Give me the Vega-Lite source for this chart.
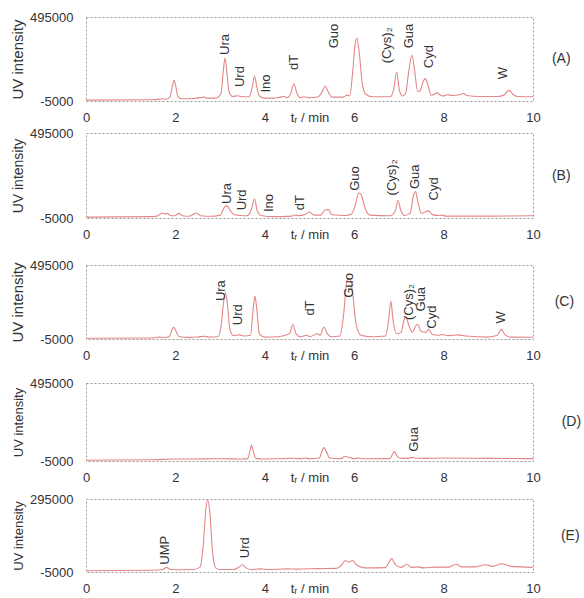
{
  "$schema": "https://vega.github.io/schema/vega-lite/v6.json",
  "background": "white",
  "padding": {"left": 10, "top": 10, "right": 0, "bottom": 5},
  "config": {
    "font": "Liberation Sans",
    "view": {"stroke": "#999", "strokeDash": [2, 2], "strokeWidth": 1},
    "axis": {"labelFontSize": 13, "titleFontSize": 13, "labelColor": "#333", "titleColor": "#333", "titleFontWeight": "normal", "domain": false, "ticks": false, "tickSize": 0, "grid": false, "labelFlush": false, "labelOverlap": false},
    "line": {"color": "#e38686", "strokeWidth": 1.1, "interpolate": "monotone"},
    "text": {"angle": 270, "align": "left", "baseline": "middle", "fontSize": 13, "color": "#333"},
    "title": {"fontSize": 14, "fontWeight": "normal", "color": "#333"}
  },
  "datasets": {
    "a": [
      {"t": 0, "v": 0}, {"t": 1.5, "v": 2000}, {"t": 1.65, "v": 6000}, {"t": 1.72, "v": 8000}, {"t": 1.8, "v": 5000},
      {"t": 1.88, "v": 20000}, {"t": 1.93, "v": 80000}, {"t": 1.97, "v": 118000}, {"t": 2.01, "v": 80000}, {"t": 2.06, "v": 20000},
      {"t": 2.15, "v": 8000}, {"t": 2.4, "v": 10000}, {"t": 2.55, "v": 15000}, {"t": 2.63, "v": 18000}, {"t": 2.72, "v": 12000},
      {"t": 2.9, "v": 12000}, {"t": 3.02, "v": 40000}, {"t": 3.07, "v": 170000}, {"t": 3.11, "v": 251000}, {"t": 3.15, "v": 170000},
      {"t": 3.2, "v": 50000}, {"t": 3.28, "v": 22000}, {"t": 3.39, "v": 26000}, {"t": 3.5, "v": 20000}, {"t": 3.65, "v": 20000},
      {"t": 3.72, "v": 80000}, {"t": 3.77, "v": 142000}, {"t": 3.82, "v": 80000}, {"t": 3.88, "v": 25000}, {"t": 4.0, "v": 12000},
      {"t": 4.2, "v": 12000}, {"t": 4.35, "v": 18000}, {"t": 4.43, "v": 22000}, {"t": 4.5, "v": 15000}, {"t": 4.58, "v": 40000},
      {"t": 4.65, "v": 98000}, {"t": 4.72, "v": 40000}, {"t": 4.8, "v": 15000}, {"t": 4.88, "v": 20000}, {"t": 5.0, "v": 14000},
      {"t": 5.2, "v": 20000}, {"t": 5.3, "v": 60000}, {"t": 5.35, "v": 84000}, {"t": 5.41, "v": 55000}, {"t": 5.5, "v": 18000},
      {"t": 5.75, "v": 18000}, {"t": 5.85, "v": 30000}, {"t": 5.9, "v": 25000}, {"t": 5.96, "v": 150000}, {"t": 6.02, "v": 330000},
      {"t": 6.06, "v": 370000}, {"t": 6.11, "v": 290000}, {"t": 6.18, "v": 100000}, {"t": 6.26, "v": 35000}, {"t": 6.4, "v": 20000},
      {"t": 6.8, "v": 20000}, {"t": 6.88, "v": 60000}, {"t": 6.95, "v": 168000}, {"t": 7.01, "v": 60000}, {"t": 7.08, "v": 25000},
      {"t": 7.15, "v": 40000}, {"t": 7.22, "v": 170000}, {"t": 7.29, "v": 267000}, {"t": 7.35, "v": 180000}, {"t": 7.42, "v": 50000},
      {"t": 7.48, "v": 60000}, {"t": 7.55, "v": 115000}, {"t": 7.59, "v": 128000}, {"t": 7.65, "v": 90000}, {"t": 7.72, "v": 30000},
      {"t": 7.8, "v": 35000}, {"t": 7.85, "v": 45000}, {"t": 7.92, "v": 30000}, {"t": 8.0, "v": 25000}, {"t": 8.09, "v": 32000},
      {"t": 8.2, "v": 28000}, {"t": 8.35, "v": 32000}, {"t": 8.44, "v": 40000}, {"t": 8.52, "v": 28000}, {"t": 8.8, "v": 22000},
      {"t": 9.2, "v": 22000}, {"t": 9.35, "v": 30000}, {"t": 9.42, "v": 50000}, {"t": 9.47, "v": 58000}, {"t": 9.55, "v": 35000},
      {"t": 9.65, "v": 22000}, {"t": 10, "v": 20000}
    ],
    "al": [
      {"t": 3.11, "v": 269000, "label": "Ura"}, {"t": 3.44, "v": 78000, "label": "Urd"}, {"t": 4.03, "v": 45000, "label": "Ino"},
      {"t": 4.66, "v": 180000, "label": "dT"}, {"t": 5.55, "v": 309000, "label": "Guo"}, {"t": 6.73, "v": 219000, "label": "(Cys)₂"},
      {"t": 7.23, "v": 309000, "label": "Gua"}, {"t": 7.67, "v": 190000, "label": "Cyd"}, {"t": 9.32, "v": 125000, "label": "W"}
    ],
    "b": [
      {"t": 0, "v": 0}, {"t": 1.5, "v": 3000}, {"t": 1.62, "v": 10000}, {"t": 1.7, "v": 24000}, {"t": 1.76, "v": 19000},
      {"t": 1.82, "v": 22000}, {"t": 1.9, "v": 8000}, {"t": 1.98, "v": 8000}, {"t": 2.08, "v": 22000}, {"t": 2.16, "v": 8000},
      {"t": 2.3, "v": 5000}, {"t": 2.42, "v": 20000}, {"t": 2.48, "v": 24000}, {"t": 2.56, "v": 8000}, {"t": 2.8, "v": 5000},
      {"t": 3.0, "v": 12000}, {"t": 3.1, "v": 60000}, {"t": 3.15, "v": 68000}, {"t": 3.22, "v": 42000}, {"t": 3.32, "v": 14000},
      {"t": 3.45, "v": 10000}, {"t": 3.6, "v": 8000}, {"t": 3.7, "v": 45000}, {"t": 3.77, "v": 108000}, {"t": 3.83, "v": 38000},
      {"t": 3.92, "v": 10000}, {"t": 4.2, "v": 3000}, {"t": 4.6, "v": 6000}, {"t": 4.68, "v": 13000}, {"t": 4.76, "v": 8000},
      {"t": 4.9, "v": 15000}, {"t": 5.0, "v": 30000}, {"t": 5.1, "v": 12000}, {"t": 5.25, "v": 12000}, {"t": 5.35, "v": 42000},
      {"t": 5.42, "v": 44000}, {"t": 5.5, "v": 14000}, {"t": 5.8, "v": 10000}, {"t": 5.92, "v": 15000}, {"t": 6.02, "v": 65000},
      {"t": 6.1, "v": 142000}, {"t": 6.16, "v": 130000}, {"t": 6.24, "v": 55000}, {"t": 6.35, "v": 12000}, {"t": 6.8, "v": 8000},
      {"t": 6.92, "v": 38000}, {"t": 6.98, "v": 98000}, {"t": 7.04, "v": 42000}, {"t": 7.12, "v": 10000}, {"t": 7.25, "v": 22000},
      {"t": 7.32, "v": 120000}, {"t": 7.37, "v": 150000}, {"t": 7.43, "v": 85000}, {"t": 7.5, "v": 22000}, {"t": 7.58, "v": 30000},
      {"t": 7.66, "v": 37000}, {"t": 7.75, "v": 15000}, {"t": 7.88, "v": 10000}, {"t": 7.95, "v": 12000}, {"t": 8.05, "v": 6000},
      {"t": 9, "v": 6000}, {"t": 10, "v": 8000}
    ],
    "bl": [
      {"t": 3.15, "v": 78000, "label": "Ura"}, {"t": 3.48, "v": 40000, "label": "Urd"}, {"t": 4.09, "v": 30000, "label": "Ino"},
      {"t": 4.78, "v": 40000, "label": "dT"}, {"t": 6.02, "v": 155000, "label": "Guo"}, {"t": 6.85, "v": 128000, "label": "(Cys)₂"},
      {"t": 7.37, "v": 165000, "label": "Gua"}, {"t": 7.79, "v": 98000, "label": "Cyd"}
    ],
    "c": [
      {"t": 0, "v": 0}, {"t": 1.5, "v": 2000}, {"t": 1.64, "v": 8000}, {"t": 1.72, "v": 5000}, {"t": 1.85, "v": 8000},
      {"t": 1.92, "v": 50000}, {"t": 1.96, "v": 76000}, {"t": 2.01, "v": 50000}, {"t": 2.08, "v": 12000}, {"t": 2.3, "v": 6000},
      {"t": 2.5, "v": 8000}, {"t": 2.64, "v": 14000}, {"t": 2.75, "v": 8000}, {"t": 2.95, "v": 10000}, {"t": 3.03, "v": 100000},
      {"t": 3.08, "v": 250000}, {"t": 3.12, "v": 309000}, {"t": 3.16, "v": 240000}, {"t": 3.22, "v": 60000}, {"t": 3.3, "v": 18000},
      {"t": 3.43, "v": 23000}, {"t": 3.55, "v": 15000}, {"t": 3.68, "v": 20000}, {"t": 3.74, "v": 200000}, {"t": 3.78, "v": 285000},
      {"t": 3.82, "v": 200000}, {"t": 3.88, "v": 30000}, {"t": 4.0, "v": 8000}, {"t": 4.3, "v": 10000}, {"t": 4.55, "v": 30000},
      {"t": 4.63, "v": 93000}, {"t": 4.7, "v": 30000}, {"t": 4.8, "v": 10000}, {"t": 4.93, "v": 20000}, {"t": 5.02, "v": 12000},
      {"t": 5.17, "v": 30000}, {"t": 5.24, "v": 20000}, {"t": 5.32, "v": 76000}, {"t": 5.4, "v": 30000}, {"t": 5.5, "v": 10000},
      {"t": 5.68, "v": 15000}, {"t": 5.76, "v": 150000}, {"t": 5.84, "v": 390000}, {"t": 5.9, "v": 402000}, {"t": 5.96, "v": 320000},
      {"t": 6.04, "v": 100000}, {"t": 6.15, "v": 20000}, {"t": 6.4, "v": 10000}, {"t": 6.7, "v": 15000}, {"t": 6.77, "v": 120000},
      {"t": 6.82, "v": 251000}, {"t": 6.87, "v": 120000}, {"t": 6.95, "v": 30000}, {"t": 7.05, "v": 40000}, {"t": 7.12, "v": 130000},
      {"t": 7.15, "v": 146000}, {"t": 7.22, "v": 90000}, {"t": 7.3, "v": 40000}, {"t": 7.38, "v": 85000}, {"t": 7.42, "v": 93000},
      {"t": 7.5, "v": 45000}, {"t": 7.6, "v": 40000}, {"t": 7.67, "v": 60000}, {"t": 7.75, "v": 25000}, {"t": 7.88, "v": 20000},
      {"t": 7.96, "v": 25000}, {"t": 8.1, "v": 18000}, {"t": 8.34, "v": 23000}, {"t": 8.5, "v": 15000}, {"t": 9.0, "v": 8000},
      {"t": 9.2, "v": 20000}, {"t": 9.29, "v": 60000}, {"t": 9.37, "v": 25000}, {"t": 9.5, "v": 8000}, {"t": 10, "v": 7000}
    ],
    "cl": [
      {"t": 3.01, "v": 251000, "label": "Ura"}, {"t": 3.39, "v": 88000, "label": "Urd"}, {"t": 5.0, "v": 153000, "label": "dT"},
      {"t": 5.88, "v": 274000, "label": "Guo"}, {"t": 7.23, "v": 123000, "label": "(Cys)₂"}, {"t": 7.49, "v": 181000, "label": "Gua"},
      {"t": 7.75, "v": 65000, "label": "Cyd"}, {"t": 9.29, "v": 100000, "label": "W"}
    ],
    "d": [
      {"t": 0, "v": 0}, {"t": 1.5, "v": 3000}, {"t": 2.0, "v": 8000}, {"t": 2.3, "v": 8000}, {"t": 3.0, "v": 9000},
      {"t": 3.5, "v": 8000}, {"t": 3.62, "v": 12000}, {"t": 3.67, "v": 60000}, {"t": 3.7, "v": 98000}, {"t": 3.74, "v": 60000},
      {"t": 3.8, "v": 12000}, {"t": 3.95, "v": 8000}, {"t": 4.5, "v": 11000}, {"t": 4.6, "v": 13000}, {"t": 4.8, "v": 10000},
      {"t": 4.88, "v": 14000}, {"t": 5.0, "v": 10000}, {"t": 5.22, "v": 14000}, {"t": 5.28, "v": 60000}, {"t": 5.32, "v": 81000},
      {"t": 5.37, "v": 60000}, {"t": 5.45, "v": 14000}, {"t": 5.7, "v": 10000}, {"t": 5.8, "v": 25000}, {"t": 5.88, "v": 18000},
      {"t": 6.0, "v": 10000}, {"t": 6.09, "v": 14000}, {"t": 6.2, "v": 9000}, {"t": 6.8, "v": 10000}, {"t": 6.86, "v": 40000},
      {"t": 6.9, "v": 55000}, {"t": 6.95, "v": 30000}, {"t": 7.05, "v": 12000}, {"t": 7.2, "v": 12000}, {"t": 7.29, "v": 18000},
      {"t": 7.38, "v": 13000}, {"t": 7.6, "v": 12000}, {"t": 8.0, "v": 14000}, {"t": 9.0, "v": 12000}, {"t": 10, "v": 10000}
    ],
    "dl": [
      {"t": 7.33, "v": 55000, "label": "Gua"}
    ],
    "e": [
      {"t": 0, "v": 0}, {"t": 1.5, "v": 2000}, {"t": 1.72, "v": 5000}, {"t": 1.8, "v": 14000}, {"t": 1.88, "v": 6000},
      {"t": 2.0, "v": 4000}, {"t": 2.4, "v": 5000}, {"t": 2.55, "v": 15000}, {"t": 2.62, "v": 100000}, {"t": 2.68, "v": 250000},
      {"t": 2.72, "v": 291000}, {"t": 2.77, "v": 240000}, {"t": 2.83, "v": 80000}, {"t": 2.9, "v": 12000}, {"t": 3.0, "v": 5000},
      {"t": 3.3, "v": 5000}, {"t": 3.42, "v": 15000}, {"t": 3.5, "v": 25000}, {"t": 3.58, "v": 12000}, {"t": 3.7, "v": 5000},
      {"t": 3.9, "v": 8000}, {"t": 4.1, "v": 5000}, {"t": 4.5, "v": 8000}, {"t": 4.7, "v": 7000}, {"t": 5.2, "v": 9000},
      {"t": 5.6, "v": 10000}, {"t": 5.73, "v": 25000}, {"t": 5.8, "v": 42000}, {"t": 5.88, "v": 35000}, {"t": 5.96, "v": 42000},
      {"t": 6.05, "v": 25000}, {"t": 6.12, "v": 18000}, {"t": 6.25, "v": 12000}, {"t": 6.7, "v": 13000}, {"t": 6.78, "v": 35000},
      {"t": 6.84, "v": 50000}, {"t": 6.92, "v": 25000}, {"t": 7.05, "v": 14000}, {"t": 7.18, "v": 27000}, {"t": 7.28, "v": 14000},
      {"t": 7.42, "v": 16000}, {"t": 7.55, "v": 12000}, {"t": 7.8, "v": 15000}, {"t": 8.1, "v": 15000}, {"t": 8.28, "v": 27000},
      {"t": 8.4, "v": 16000}, {"t": 8.7, "v": 16000}, {"t": 8.94, "v": 25000}, {"t": 9.1, "v": 18000}, {"t": 9.3, "v": 29000},
      {"t": 9.5, "v": 18000}, {"t": 10, "v": 14000}
    ],
    "el": [
      {"t": 1.76, "v": 25000, "label": "UMP"}, {"t": 3.55, "v": 52000, "label": "Urd"}
    ]
  },
  "vconcat": [
    {
      "width": 447, "height": 84,
      "title": {"text": "(A)", "orient": "right", "angle": 0, "anchor": "middle", "offset": -7, "align": "left", "baseline": "middle"},
      "layer": [
        {"data": {"name": "a"}, "mark": "line", "encoding": {
          "x": {"field": "t", "type": "quantitative", "scale": {"domain": [0, 10], "nice": false}, "axis": {"values": [0, 2, 4, 6, 8, 10], "title": "tᵣ / min", "labelPadding": 10, "titleY": 10, "titleBaseline": "top"}},
          "y": {"field": "v", "type": "quantitative", "scale": {"domain": [-5000, 495000], "nice": false, "zero": false}, "axis": {"values": [-5000, 495000], "labelExpr": "'' + datum.value", "title": "UV intensity", "labelPadding": 13, "titlePadding": 4, "titleFontSize": 15}}}},
        {"data": {"name": "al"}, "mark": "text", "encoding": {
          "x": {"field": "t", "type": "quantitative"}, "y": {"field": "v", "type": "quantitative"}, "text": {"field": "label"}}}
      ]
    },
    {
      "bounds": "flush", "spacing": 47,
      "vconcat": [
        {
          "width": 447, "height": 85,
          "title": {"text": "(B)", "orient": "right", "angle": 0, "anchor": "middle", "offset": -7, "align": "left", "baseline": "middle"},
          "layer": [
            {"data": {"name": "b"}, "mark": "line", "encoding": {
              "x": {"field": "t", "type": "quantitative", "scale": {"domain": [0, 10], "nice": false}, "axis": {"values": [0, 2, 4, 6, 8, 10], "title": "tᵣ / min", "labelPadding": 10, "titleY": 10, "titleBaseline": "top"}},
              "y": {"field": "v", "type": "quantitative", "scale": {"domain": [-5000, 495000], "nice": false, "zero": false}, "axis": {"values": [-5000, 495000], "labelExpr": "'' + datum.value", "title": "UV intensity", "labelPadding": 13, "titlePadding": 4, "titleFontSize": 14}}}},
            {"data": {"name": "bl"}, "mark": "text", "encoding": {
              "x": {"field": "t", "type": "quantitative"}, "y": {"field": "v", "type": "quantitative"}, "text": {"field": "label"}}}
          ]
        },
        {
          "bounds": "flush", "spacing": 44,
          "vconcat": [
            {
              "width": 447, "height": 74,
              "title": {"text": "(C)", "orient": "right", "angle": 0, "anchor": "middle", "offset": -5, "align": "left", "baseline": "middle"},
              "layer": [
                {"data": {"name": "c"}, "mark": "line", "encoding": {
                  "x": {"field": "t", "type": "quantitative", "scale": {"domain": [0, 10], "nice": false}, "axis": {"values": [0, 2, 4, 6, 8, 10], "title": "tᵣ / min", "labelPadding": 10, "titleY": 10, "titleBaseline": "top"}},
                  "y": {"field": "v", "type": "quantitative", "scale": {"domain": [-5000, 495000], "nice": false, "zero": false}, "axis": {"values": [-5000, 495000], "labelExpr": "'' + datum.value", "title": "UV intensity", "labelPadding": 13, "titlePadding": 4, "titleFontSize": 15}}}},
                {"data": {"name": "cl"}, "mark": "text", "encoding": {
                  "x": {"field": "t", "type": "quantitative"}, "y": {"field": "v", "type": "quantitative"}, "text": {"field": "label"}}}
              ]
            },
            {
              "bounds": "flush", "spacing": 38,
              "vconcat": [
                {
                  "width": 447, "height": 78,
                  "title": {"text": "(D)", "orient": "right", "angle": 0, "anchor": "middle", "offset": 2, "align": "left", "baseline": "middle"},
                  "layer": [
                    {"data": {"name": "d"}, "mark": "line", "encoding": {
                      "x": {"field": "t", "type": "quantitative", "scale": {"domain": [0, 10], "nice": false}, "axis": {"values": [0, 2, 4, 6, 8, 10], "title": "tᵣ / min", "labelPadding": 10, "titleY": 10, "titleBaseline": "top"}},
                      "y": {"field": "v", "type": "quantitative", "scale": {"domain": [-5000, 495000], "nice": false, "zero": false}, "axis": {"values": [-5000, 495000], "labelExpr": "'' + datum.value", "title": "UV intensity", "labelPadding": 13, "titlePadding": 4, "titleFontSize": 13}}}},
                    {"data": {"name": "dl"}, "mark": "text", "encoding": {
                      "x": {"field": "t", "type": "quantitative"}, "y": {"field": "v", "type": "quantitative"}, "text": {"field": "label"}}}
                  ]
                },
                {
                  "width": 447, "height": 73,
                  "title": {"text": "(E)", "orient": "right", "angle": 0, "anchor": "middle", "offset": 2, "align": "left", "baseline": "middle"},
                  "layer": [
                    {"data": {"name": "e"}, "mark": "line", "encoding": {
                      "x": {"field": "t", "type": "quantitative", "scale": {"domain": [0, 10], "nice": false}, "axis": {"values": [0, 2, 4, 6, 8, 10], "title": "tᵣ / min", "labelPadding": 10, "titleY": 10, "titleBaseline": "top"}},
                      "y": {"field": "v", "type": "quantitative", "scale": {"domain": [-5000, 295000], "nice": false, "zero": false}, "axis": {"values": [-5000, 295000], "labelExpr": "'' + datum.value", "title": "UV intensity", "labelPadding": 13, "titlePadding": 4, "titleFontSize": 13}}}},
                    {"data": {"name": "el"}, "mark": "text", "encoding": {
                      "x": {"field": "t", "type": "quantitative"}, "y": {"field": "v", "type": "quantitative"}, "text": {"field": "label"}}}
                  ]
                }
              ]
            }
          ]
        }
      ]
    }
  ],
  "bounds": "flush",
  "spacing": 32
}
